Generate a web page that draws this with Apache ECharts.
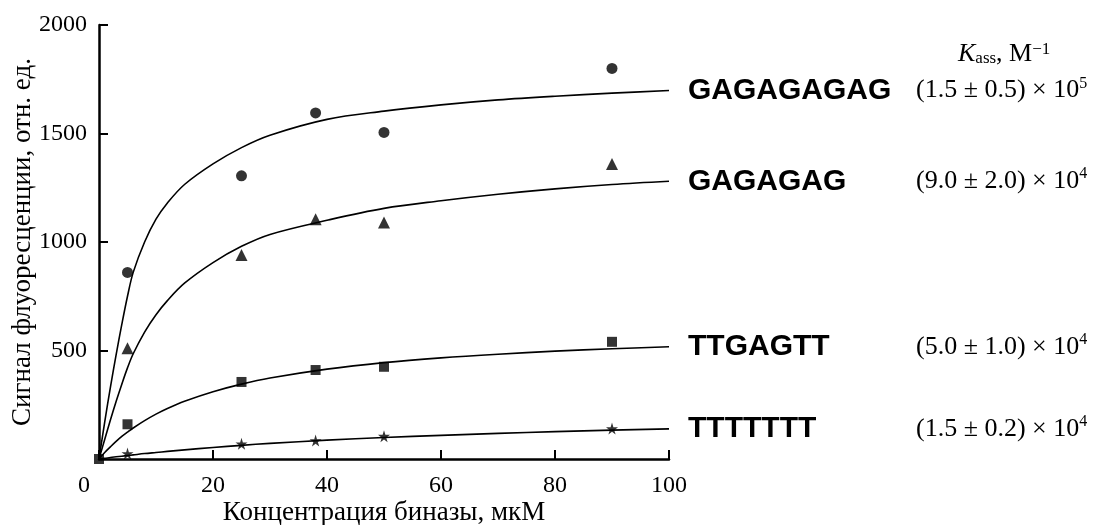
<!DOCTYPE html>
<html>
<head>
<meta charset="utf-8">
<script src="https://cdn.jsdelivr.net/npm/echarts@6/dist/echarts.min.js"></script>
<style>
html, body { margin: 0; padding: 0; background: #fff; }
#main { width: 1097px; height: 525px; }
</style>
</head>
<body>
<div id="main"></div>
<script>
// концентрация биназы, мкМ (точки измерения)
var concX = [5, 25, 38, 50, 90];
var gagagagagPts = [860, 1305, 1595, 1505, 1800];
var gagagagPts = [510, 940, 1105, 1090, 1360];
var ttgagttPts = [160, 355, 410, 425, 540];
var tttttttPts = [25, 70, 85, 105, 140];

// аппроксимирующие кривые
var fitX = [0, 1, 2, 3, 4, 5, 6, 8, 10, 12, 15, 20, 25, 30, 40, 50, 60, 70, 80, 90, 100];
var gagagagagFit = [0, 170, 330, 480, 620, 750, 860, 1000, 1105, 1180, 1265, 1360, 1435, 1492, 1565, 1603, 1632, 1655, 1672, 1686, 1698];
var gagagagFit = [0, 90, 180, 265, 345, 420, 485, 585, 665, 730, 810, 905, 980, 1035, 1100, 1155, 1190, 1220, 1245, 1265, 1280];
var ttgagttFit = [0, 30, 56, 81, 104, 124, 143, 177, 207, 233, 266, 310, 345, 373, 414, 444, 466, 483, 497, 508, 517];
var tttttttFit = [0, 3, 7, 10, 13, 16, 19, 25, 30, 35, 42, 53, 63, 72, 87, 99, 109, 118, 126, 133, 139];

var seqNames = ['GAGAGAGAG', 'GAGAGAG', 'TTGAGTT', 'TTTTTTT'];
var kassBase = ['(1.5 ± 0.5) × 10', '(9.0 ± 2.0) × 10', '(5.0 ± 1.0) × 10', '(1.5 ± 0.2) × 10'];
var kassPow = ['5', '4', '4', '4'];

var serif = 'Liberation Serif';
var sans = 'Liberation Sans';
var starPath = 'path://M50,0 L61,35 L98,35 L68,57 L79,91 L50,70 L21,91 L32,57 L2,35 L39,35 Z';

function pairs(xs, ys) {
	var res = [];
	for(var i = 0; i < ys.length; i++) {
		res.push([xs[i], ys[i]]);
	}
	return res;
}

function fitSeries(ys, idx) {
	return {
		type: 'line',
		data: pairs(fitX, ys),
		smooth: 0.35,
		symbol: 'none',
		lineStyle: { color: '#000', width: 1.6 },
		z: 2,
		endLabel: {
			show: true,
			distance: 19,
			color: '#000',
			formatter: function() {
				return '{n|' + seqNames[idx] + '}{k|' + kassBase[idx] + '}{p|' + kassPow[idx] + '}';
			},
			rich: {
				n: { fontFamily: sans, fontWeight: 'bold', fontSize: 30, width: 228, color: '#000' },
				k: { fontFamily: serif, fontSize: 26, color: '#000' },
				p: { fontFamily: serif, fontSize: 16, verticalAlign: 'top', color: '#000' }
			}
		}
	};
}

function pointSeries(xs, ys, symbol, size) {
	return {
		type: 'scatter',
		data: pairs(xs, ys),
		symbol: symbol,
		symbolSize: size,
		itemStyle: { color: '#000' },
		z: 3
	};
}

var option = {
	backgroundColor: '#fff',
	animation: false,
	title: {
		text: '{k|K}{s|ass}{t|, M}{p|−1}',
		left: 953,
		top: 36,
		textStyle: {
			fontWeight: 'normal',
			rich: {
				k: { fontFamily: serif, fontStyle: 'italic', fontWeight: 'normal', fontSize: 26, color: '#000' },
				s: { fontFamily: serif, fontWeight: 'normal', fontSize: 17, verticalAlign: 'bottom', color: '#000' },
				t: { fontFamily: serif, fontWeight: 'normal', fontSize: 26, color: '#000' },
				p: { fontFamily: serif, fontWeight: 'normal', fontSize: 17, verticalAlign: 'top', color: '#000' }
			}
		}
	},
	grid: { left: 99, right: 428, top: 25, bottom: 66, outerBoundsMode: 'none', containLabel: false },
	xAxis: {
		type: 'value',
		min: 0,
		max: 100,
		interval: 20,
		name: 'Концентрация биназы, мкМ',
		nameLocation: 'middle',
		nameGap: 40,
		nameMoveOverlap: false,
		nameTextStyle: { fontFamily: serif, fontSize: 27, color: '#000' },
		axisLine: { lineStyle: { color: '#000', width: 2.5 } },
		axisTick: { inside: true, length: 9, lineStyle: { color: '#000', width: 2 } },
		axisLabel: {
			margin: 15,
			fontFamily: serif,
			fontSize: 24,
			color: '#000',
			formatter: function(v) {
				return v === 0 ? '{o|0}' : String(v);
			},
			rich: {
				o: { fontFamily: serif, fontSize: 24, color: '#000', padding: [0, 30, 0, 0] }
			}
		},
		splitLine: { show: false }
	},
	yAxis: {
		type: 'value',
		min: 0,
		max: 2000,
		interval: 500,
		name: 'Сигнал флуоресценции, отн. ед.',
		nameLocation: 'middle',
		nameGap: 63,
		nameMoveOverlap: false,
		nameTextStyle: { fontFamily: serif, fontSize: 27, color: '#000' },
		axisLine: { show: true, lineStyle: { color: '#000', width: 2.5 } },
		axisTick: { show: true, inside: true, length: 9, lineStyle: { color: '#000', width: 2 } },
		axisLabel: {
			showMinLabel: false,
			margin: 12,
			fontFamily: serif,
			fontSize: 24,
			color: '#000',
			formatter: function(v) {
				return String(v);
			}
		},
		splitLine: { show: false }
	},
	series: [
		fitSeries(gagagagagFit, 0),
		fitSeries(gagagagFit, 1),
		fitSeries(ttgagttFit, 2),
		fitSeries(tttttttFit, 3),
		pointSeries(concX, gagagagagPts, 'circle', 11),
		pointSeries(concX, gagagagPts, 'triangle', 12),
		pointSeries(concX, tttttttPts, starPath, 12),
		pointSeries([0].concat(concX), [0].concat(ttgagttPts), 'rect', 10)
	]
};

var chart = echarts.init(document.getElementById('main'));
chart.setOption(option);
window.addEventListener('resize', function() {
	chart.resize();
});
</script>
</body>
</html>
